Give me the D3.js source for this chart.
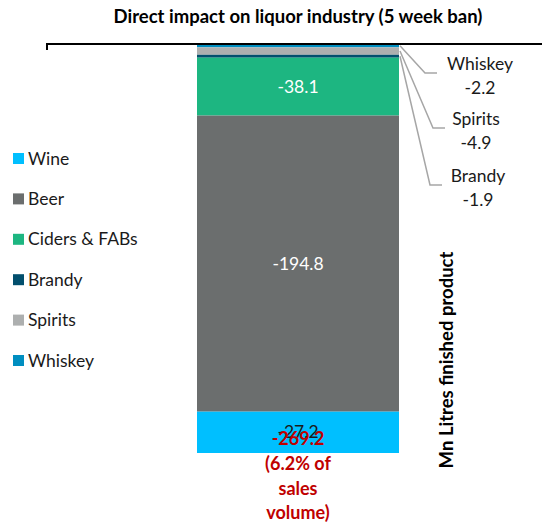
<!DOCTYPE html>
<html>
<head>
<meta charset="utf-8">
<script src="https://cdn.jsdelivr.net/npm/d3@7"></script>
<style>
  body { margin: 0; background: #fff; }
  text { font-family: Lato, "Open Sans", sans-serif; }
</style>
</head>
<body>
<div id="chart"></div>
<script>
// stacked from the top (zero line) downwards
const categories = ["Whiskey", "Spirits", "Brandy", "Ciders & FABs", "Beer", "Wine"];
const values = [-2.2, -4.9, -1.9, -38.1, -194.8, -27.2];
const colors = ["#008EC0", "#ADAFAF", "#024F6D", "#1DB681", "#6B6E6E", "#00BFFF"];
const legendOrder = ["Wine", "Beer", "Ciders & FABs", "Brandy", "Spirits", "Whiskey"];
const calloutCats = ["Whiskey", "Spirits", "Brandy"];
const totalValue = -269.2;
const totalLines = ["(6.2% of", "sales", "volume)"];

const width = 542, height = 524;
const margin = {top: 44, left: 47};

const svg = d3.select("#chart").append("svg")
    .attr("width", width)
    .attr("height", height);

const x = d3.scaleBand()
    .domain(["ban"])
    .range([197, 399])
    .paddingInner(0);

const y = d3.scaleLinear()
    .domain([0, d3.sum(values)])
    .range([margin.top, 453]);

// build stacked segments
let acc = 0;
const segs = categories.map((c, i) => {
  const s = {cat: c, v: values[i], y0: acc, y1: acc + values[i], color: colors[i]};
  acc += values[i];
  return s;
});

svg.append("g")
  .selectAll("rect")
  .data(segs)
  .join("rect")
    .attr("x", x("ban"))
    .attr("width", x.bandwidth())
    .attr("y", d => y(d.y0))
    .attr("height", d => y(d.y1) - y(d.y0))
    .attr("fill", d => d.color);

// zero line with left tick
svg.append("path")
    .attr("d", `M${margin.left},${y(0) + 6}V${y(0)}H${width}`)
    .attr("fill", "none")
    .attr("stroke", "#000")
    .attr("stroke-width", 2);

// inside labels
const inside = segs.filter(d => !calloutCats.includes(d.cat));
svg.append("g")
  .selectAll("text")
  .data(inside)
  .join("text")
    .attr("x", x("ban") + x.bandwidth() / 2)
    .attr("y", d => y((d.y0 + d.y1) / 2) + 6)
    .attr("text-anchor", "middle")
    .attr("font-size", 17.5)
    .attr("fill", d => d.cat === "Wine" ? "#1a1a1a" : "#fff")
    .text(d => d.v.toFixed(1));

// callouts
const callPos = {Whiskey: {lx: 425, ly: 73, tx: 480, ty: 70},
                 Spirits: {lx: 433, ly: 128, tx: 476, ty: 125},
                 Brandy: {lx: 430, ly: 185, tx: 478, ty: 182}};
const callouts = segs.filter(d => calloutCats.includes(d.cat));
const cg = svg.append("g");
callouts.forEach(d => {
  const p = callPos[d.cat];
  const sy = y((d.y0 + d.y1) / 2);
  cg.append("path")
      .attr("d", `M${x("ban") + x.bandwidth() + 1},${sy}L${p.lx},${p.ly}H${p.lx + 12}`)
      .attr("fill", "none")
      .attr("stroke", "#A6A6A6")
      .attr("stroke-width", 1.5);
  cg.append("text")
      .attr("x", p.tx).attr("y", p.ty)
      .attr("text-anchor", "middle")
      .attr("font-size", 17.5)
      .attr("fill", "#1a1a1a")
      .text(d.cat);
  cg.append("text")
      .attr("x", p.tx).attr("y", p.ty + 24)
      .attr("text-anchor", "middle")
      .attr("font-size", 17.5)
      .attr("fill", "#1a1a1a")
      .text(d.v.toFixed(1));
});

// total label
const tg = svg.append("g")
    .attr("fill", "#C00000")
    .attr("font-weight", "bold")
    .attr("font-size", 18)
    .attr("text-anchor", "middle");
tg.append("text")
    .attr("x", x("ban") + x.bandwidth() / 2)
    .attr("y", 445)
    .text(totalValue.toFixed(1));
totalLines.forEach((t, i) => {
  tg.append("text")
      .attr("x", x("ban") + x.bandwidth() / 2)
      .attr("y", 470 + i * 24.5)
      .text(t);
});

// legend
const color = d3.scaleOrdinal().domain(categories).range(colors);
const lg = svg.append("g")
  .selectAll("g")
  .data(legendOrder)
  .join("g")
    .attr("transform", (d, i) => `translate(13,${158 + i * 40.4})`);
lg.append("rect")
    .attr("x", 0).attr("y", -5)
    .attr("width", 11).attr("height", 11)
    .attr("fill", d => color(d));
lg.append("text")
    .attr("x", 15).attr("y", 6.5)
    .attr("font-size", 17.5)
    .attr("fill", "#1a1a1a")
    .text(d => d);

// title
svg.append("text")
    .attr("x", 298).attr("y", 23)
    .attr("text-anchor", "middle")
    .attr("font-weight", "bold")
    .attr("font-size", 18.5)
    .text("Direct impact on liquor industry (5 week ban)");

// axis title
svg.append("text")
    .attr("transform", "translate(453,360) rotate(-90)")
    .attr("text-anchor", "middle")
    .attr("font-weight", "bold")
    .attr("font-size", 18.5)
    .text("Mn Litres finished product");
</script>
</body>
</html>
